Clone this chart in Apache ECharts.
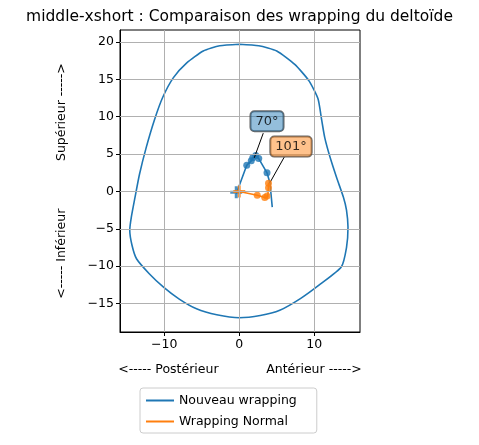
<!DOCTYPE html>
<html>
<head>
<meta charset="utf-8">
<script src="https://cdn.jsdelivr.net/npm/echarts@6/dist/echarts.min.js"></script>
<style>html,body{margin:0;padding:0;background:#fff}#c{width:479px;height:445px}</style>
</head>
<body>
<div id="c"></div>
<script>
// contour du deltoïde (nouveau wrapping)
const contour = [
  [0,19.7],[-2.6,19.5],[-4.8,18.8],[-7,17.2],[-8.8,15.2],[-10.2,12.6],[-11.3,9.6],[-12.4,5.9],
  [-13.3,2.3],[-13.9,-0.8],[-14.4,-3.5],[-14.6,-5.2],[-14.3,-7.2],[-13.7,-9.0],[-12,-11],
  [-10.1,-12.8],[-8,-14.4],[-5.7,-15.7],[-3,-16.5],[0,-16.9],[2.8,-16.6],[5.4,-15.9],
  [8.2,-14.3],[10.8,-12.4],[13.6,-10.1],[14.3,-7.5],[14.5,-4.8],[14.3,-2.5],[13.9,-0.8],
  [13,1.8],[12.1,4.6],[11.4,7.2],[11,9.5],[10.5,12.4],[9.3,14.8],[7.4,17],[5,18.8],[2.6,19.5],[0,19.7]
];
const bluePath = [[-0.4,-0.3],[1.0,3.5],[1.6,4.1],[1.8,4.5],[2.2,4.8],[2.6,4.4],[3.7,2.5],[4.1,1.1],[4.4,-2.1]];
const blueMarks = [[1.0,3.5],[1.6,4.1],[1.8,4.5],[2.2,4.8],[2.6,4.4],[3.7,2.5]];
const orangePath = [[0,0],[2.4,-0.5],[3.4,-0.8],[3.8,-0.7],[3.9,0.7],[3.9,1.2]];
const orangeMarks = [[2.4,-0.5],[3.4,-0.8],[3.7,-0.6],[3.9,0.5],[3.9,1.1]];
const bluePlus = [[-0.4,-0.1]];
const orangePlus = [[0,0]];
const angle70 = {label:'70°', box:[3.7,9.4], from:[3.2,7.8], to:[2.0,4.5]};
const angle101 = {label:'101°', box:[6.9,6.0], from:[6.0,4.6], to:[4.1,1.2]};
const xTicks = [-10,0,10];
const yTicks = [-15,-10,-5,0,5,10,15,20];

const BLUE = '#1f77b4', ORANGE = '#ff7f0e';
const plus = 'path://M-1,-0.25L-0.25,-0.25L-0.25,-1L0.25,-1L0.25,-0.25L1,-0.25L1,0.25L0.25,0.25L0.25,1L-0.25,1L-0.25,0.25L-1,0.25Z';
const fmt = v => String(v).replace('-', '\u2212');

const gridLines = xTicks.map(v => ({xAxis:v})).concat(yTicks.map(v => ({yAxis:v})));

function boxSeries(a, color){
  return [{
    type:'line', data:[a.from,a.to], symbol:'none', silent:true,
    lineStyle:{color:'#000',width:1}, z:4
  },{
    type:'scatter', data:[a.box], symbolSize:0, silent:true, z:6,
    label:{show:true, position:'inside', formatter:a.label, color:'#000', fontSize:13,
      fontFamily:'DejaVu Sans', backgroundColor:color, borderColor:'#444', borderWidth:1,
      borderRadius:4, padding:[4,5,3,5]}
  }];
}

const chart = echarts.init(document.getElementById('c'));
chart.setOption({
  animation:false,
  textStyle:{fontFamily:'DejaVu Sans'},
  title:{text:'middle-xshort : Comparaison des wrapping du deltoïde', left:'center', top:4,
    textStyle:{fontSize:15.5, fontWeight:'normal', color:'#000', fontFamily:'DejaVu Sans'}},
  grid:{left:120, right:119, top:30, bottom:113, show:true, borderColor:'#000', borderWidth:1},
  xAxis:{type:'value', min:-15.9, max:16.1,
    name:'<----- Postérieur            Antérieur ----->', nameLocation:'middle', nameGap:31,
    nameTextStyle:{fontSize:12.5, color:'#000'},
    axisLine:{onZero:false, lineStyle:{color:'#000'}},
    axisTick:{show:true, customValues:xTicks, length:4, lineStyle:{color:'#000'}},
    axisLabel:{customValues:xTicks, color:'#000', fontSize:12.5, margin:6, formatter:fmt},
    splitLine:{show:false}},
  yAxis:{type:'value', min:-18.8, max:21.6,
    name:'<----- Inférieur            Supérieur ----->', nameLocation:'middle', nameGap:52,
    nameTextStyle:{fontSize:12.5, color:'#000'},
    axisLine:{show:true, onZero:false, lineStyle:{color:'#000'}},
    axisTick:{show:true, customValues:yTicks, length:4, lineStyle:{color:'#000'}},
    axisLabel:{customValues:yTicks, color:'#000', fontSize:12.5, margin:6, formatter:fmt},
    splitLine:{show:false}},
  legend:{data:['Nouveau wrapping','Wrapping Normal'], orient:'vertical', left:140, top:388,
    itemWidth:28, itemHeight:10, itemGap:8, icon:'path://M0,4L28,4L28,6L0,6Z',
    textStyle:{fontSize:12.5, color:'#000'}, borderColor:'#ccc', borderWidth:1, borderRadius:3,
    padding:[6,20,5,6]},
  series:[
    {type:'line', silent:true, data:[], markLine:{silent:true, symbol:'none', label:{show:false},
      lineStyle:{color:'#b0b0b0', width:1, type:'solid'}, data:gridLines}, z:1},
    {name:'Nouveau wrapping', type:'line', data:contour, symbol:'none', smooth:0.2,
      lineStyle:{color:BLUE, width:1.6}, itemStyle:{color:BLUE}, z:3},
    {type:'line', data:bluePath, symbol:'none', lineStyle:{color:BLUE, width:1.6}, z:3},
    {type:'scatter', data:blueMarks, symbolSize:7, itemStyle:{color:BLUE}, z:3},
    {type:'scatter', data:bluePlus, symbol:plus, symbolSize:12, itemStyle:{color:BLUE}, z:3},
    {name:'Wrapping Normal', type:'line', data:orangePath, symbol:'none',
      lineStyle:{color:ORANGE, width:1.6}, itemStyle:{color:ORANGE}, z:4},
    {type:'scatter', data:orangeMarks, symbolSize:7, itemStyle:{color:ORANGE}, z:4},
    {type:'scatter', data:orangePlus, symbol:plus, symbolSize:12, itemStyle:{color:ORANGE}, z:4},
    ...boxSeries(angle70, 'rgba(31,119,180,0.6)'),
    ...boxSeries(angle101, 'rgba(255,127,14,0.6)')
  ]
});
</script>
</body>
</html>
